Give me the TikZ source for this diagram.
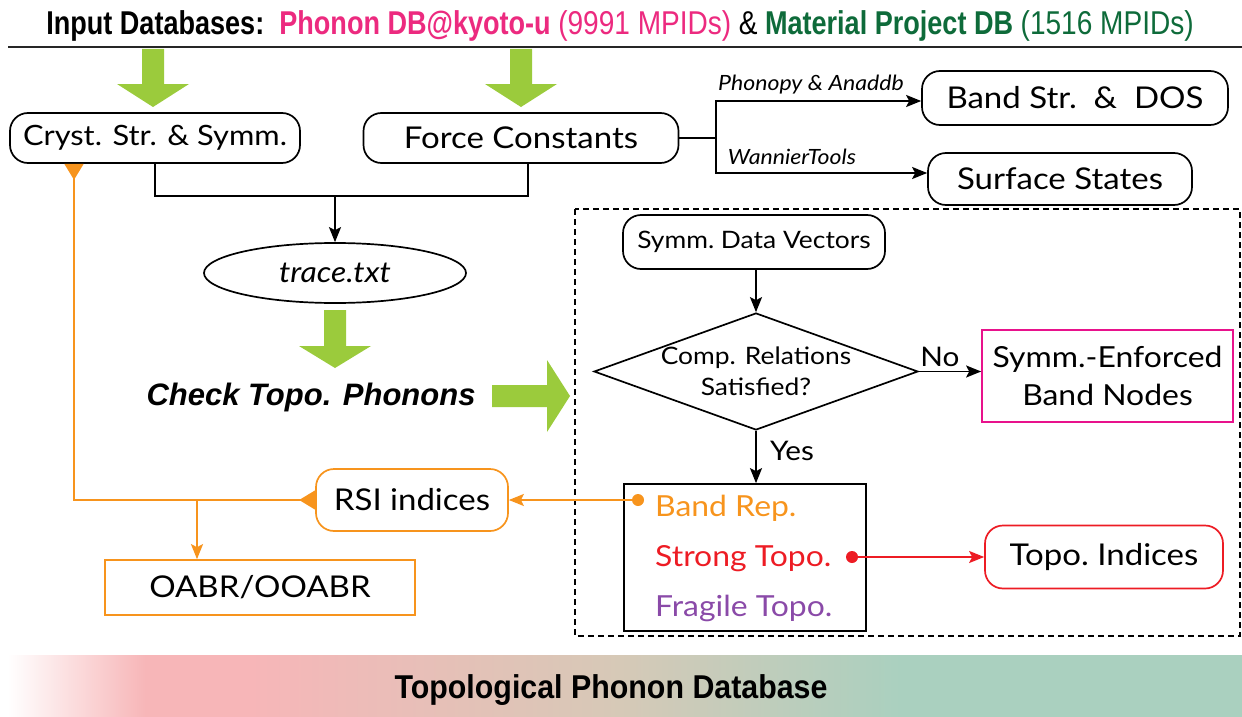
\documentclass[tikz,border=0pt]{standalone}
\usepackage{fontspec}
\setmainfont[FakeStretch=1.1]{Lato}
\newfontfamily\condb[FakeStretch=0.82]{Liberation Sans}
\newfontfamily\condc[FakeStretch=0.92]{Liberation Sans}
\newfontfamily\helvn[FakeStretch=0.85]{Liberation Sans}
\newfontfamily\helv{Liberation Sans}
\usetikzlibrary{arrows.meta,shapes.geometric}
\definecolor{gArrow}{HTML}{9BCB3C}
\definecolor{tPink}{HTML}{EC2A7F}
\definecolor{tGreen}{HTML}{0E6B3A}
\definecolor{cOrange}{HTML}{F7941D}
\definecolor{cRed}{HTML}{ED1C24}
\definecolor{cPurple}{HTML}{8A4AA8}
\definecolor{cMagenta}{HTML}{E8128C}
\definecolor{bPink}{HTML}{F7B6B8}
\definecolor{bTan}{HTML}{D6C9B7}
\definecolor{bGreen}{HTML}{AAD0BF}
\tikzset{
  lw/.style={line width=1.7pt},
  rbox/.style={draw, lw, rounded corners=18pt, inner sep=0pt, font=\fontsize{30}{34}\selectfont},
  sbox/.style={draw, lw, inner sep=0pt, font=\fontsize{30}{34}\selectfont},
  arr/.style={lw, -{Stealth[length=15pt,width=12pt,inset=3pt]}},
  lab/.style={font=\fontsize{21}{24}\selectfont\itshape, inner sep=0pt},
  garrow/.style={fill=gArrow, draw=none},
  tri/.tip={Triangle[reversed,length=16pt,width=19pt]}
}
\newcommand\gdown[4]{%
  \fill[garrow] (#1-11,#2) -- (#1+11,#2) -- (#1+11,#3) -- (#1+36,#3) -- (#1,#4)
    -- (#1-36,#3) -- (#1-11,#3) -- cycle;}
\begin{document}
\begin{tikzpicture}[x=1pt,y=-1pt]
\useasboundingbox (0,0) rectangle (1242,717);
% title
\node[anchor=base, inner sep=0pt] (title) at (620,35) {\condb\bfseries\fontsize{33}{36}\selectfont
  Input Databases:\ \ {\color{tPink}Phonon DB@kyoto-u} {\helvn\mdseries\color{tPink}(9991 MPIDs)} {\helvn\mdseries \&} {\color{tGreen}Material Project DB} {\helvn\mdseries\color{tGreen}(1516 MPIDs)}};
\draw[line width=2pt, black!85] (8,47) -- (1242,47);
% green arrows
\gdown{153}{49}{84}{107}
\gdown{521}{49}{84}{107}
\gdown{335}{310}{346}{368}
\fill[garrow] (492,385) -- (547,385) -- (547,360) -- (570,396) -- (547,432) -- (547,407) -- (492,407) -- cycle;
% top boxes
\node[rbox, minimum width=290pt, minimum height=50pt, font=\fontsize{28}{32}\selectfont] (cryst) at (155,138) {Cryst. Str. \& Symm.};
\node[rbox, minimum width=315pt, minimum height=50pt] (force) at (521,138) {Force Constants};
\node[rbox, minimum width=306pt, minimum height=54pt] (band) at (1075,98) {Band Str.\ \ \& \ DOS};
\node[rbox, minimum width=264pt, minimum height=52pt] (surf) at (1060,179) {Surface States};
\node[lab, anchor=base] (lab1) at (811,91) {Phonopy \& Anaddb};
\node[lab, anchor=base] (lab2) at (792,164) {WannierTools};
\coordinate (fb) at (716,138);
\draw[lw] (force.east) -- (fb);
\draw[arr] (fb) |- ([yshift=-3pt]band.west);
\draw[arr] (fb) |- ([yshift=6pt]surf.west);
% trace
\node[draw, lw, ellipse, minimum width=262pt, minimum height=60pt, inner sep=0pt, font=\fontsize{29}{32}\selectfont\itshape] (trace) at (335,273) {trace.txt};
\coordinate (jn) at (335,196);
\draw[lw] (cryst.south) |- (jn) -| ([xshift=7pt]force.south);
\draw[arr] (jn) -- (trace.north);
\node[anchor=base, inner sep=0pt, font=\helv\bfseries\itshape\fontsize{31}{34}\selectfont] (check) at (311,405) {Check Topo. Phonons};
% dashed region
\draw[lw, dashed, dash pattern=on 6pt off 4pt] (575,209) rectangle (1240,636);
\node[rbox, minimum width=262pt, minimum height=54pt, font=\fontsize{24}{28}\selectfont] (sdv) at (754,242) {Symm.\ Data Vectors};
\node[draw, lw, diamond, minimum width=324pt, minimum height=117pt, inner sep=0pt] (dia) at (756,371.5) {};
\node[align=center, font=\fontsize{24}{31}\selectfont] (diat) at (dia) {Comp. Relations\\Satisfied?};
\draw[arr] (sdv.south -| dia.north) -- (dia.north);
\node[draw=cMagenta, lw, inner sep=0pt, minimum width=251pt, minimum height=92pt, align=center, font=\fontsize{29}{38}\selectfont] (sebn) at (1107.5,376) {Symm.-Enforced\\Band Nodes};
\draw[arr] (dia.east) -- (dia.east -| sebn.west);
\node[font=\fontsize{27}{30}\selectfont, inner sep=0pt, anchor=base] (no) at (940,366) {No};
\node[draw, lw, minimum width=242pt, minimum height=147pt, inner sep=0pt] (res) at (745,557.5) {};
\draw[arr] (dia.south) -- (dia.south |- res.north);
\node[font=\fontsize{27}{30}\selectfont, inner sep=0pt, anchor=base] (yes) at (792,460) {Yes};
\node[anchor=base west, inner sep=0pt, text=cOrange, font=\fontsize{29}{33}\selectfont] (brep) at (655,516) {Band Rep.};
\node[anchor=base west, inner sep=0pt, text=cRed, font=\fontsize{29}{33}\selectfont] (stopo) at (655,566) {Strong Topo.};
\node[anchor=base west, inner sep=0pt, text=cPurple, font=\fontsize{29}{33}\selectfont] (ftopo) at (655,616) {Fragile Topo.};
% RSI and OABR
\node[rbox, draw=cOrange, minimum width=192pt, minimum height=62pt] (rsi) at (412,500) {RSI indices};
\node[sbox, draw=cOrange, minimum width=310pt, minimum height=55pt] (oabr) at (260,587.5) {OABR/OOABR};
\coordinate (bdot) at (638,500);
\fill[cOrange] (bdot) circle (6pt);
\draw[arr, cOrange] (bdot) -- (rsi.east);
\draw[lw, cOrange, {tri}-{tri}] (rsi.west) -| ([xshift=-81pt]cryst.south);
\coordinate (obr) at (197,500);
\draw[arr, cOrange] (obr) -- (obr |- oabr.north);
% topo indices
\node[rbox, draw=cRed, minimum width=238pt, minimum height=63pt] (topo) at (1104,557) {Topo.\ Indices};
\coordinate (rdot) at (852,557);
\fill[cRed] (rdot) circle (6pt);
\draw[arr, cRed] (rdot) -- (topo.west);
% bottom band
\shade[left color=white, right color=bPink, draw=none] (8,655) rectangle (145,717);
\fill[bPink] (144.5,655) rectangle (250.5,717);
\shade[left color=bPink, right color=bTan, draw=none] (250,655) rectangle (620.5,717);
\shade[left color=bTan, right color=bGreen, draw=none] (620,655) rectangle (900.5,717);
\fill[bGreen] (900,655) rectangle (1242,717);
\node[inner sep=0pt, font=\condc\bfseries\fontsize{33}{36}\selectfont] (foot) at (611,690) {Topological Phonon Database};
\end{tikzpicture}
\end{document}
